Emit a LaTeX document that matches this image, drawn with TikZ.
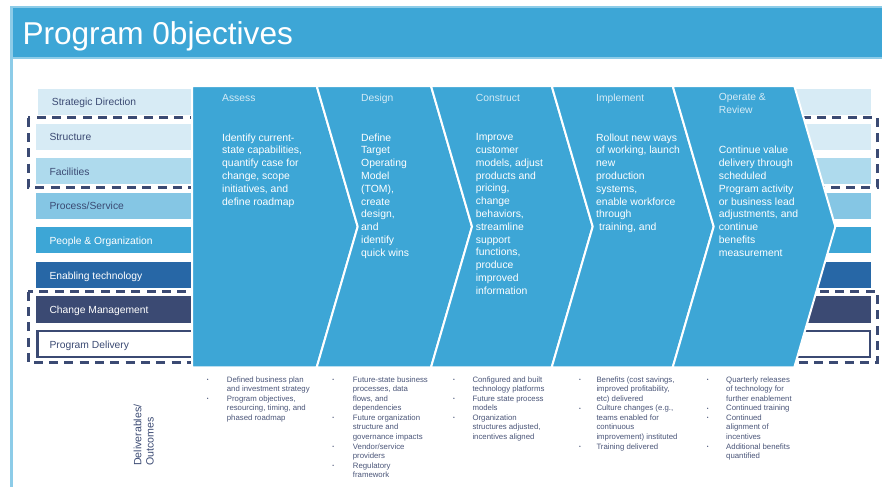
\documentclass[tikz,border=0pt]{standalone}
\usepackage{fontspec}
\setmainfont{Liberation Sans}
\definecolor{mainblue}{HTML}{3DA6D6}
\definecolor{framelight}{HTML}{8DCCE8}
\definecolor{bandpale}{HTML}{D7EBF5}
\definecolor{bandlight}{HTML}{AEDAED}
\definecolor{bandmid}{HTML}{85C6E4}
\definecolor{banddeep}{HTML}{2767A6}
\definecolor{navy}{HTML}{3B4A73}
\definecolor{titletext}{HTML}{D5EBF6}
\definecolor{delivtext}{HTML}{4A5578}
\tikzset{
  bandlabel/.style={anchor=base west, inner sep=0pt, font=\fontsize{10.3}{12}\selectfont},
  chevtitle/.style={anchor=base west, inner sep=0pt, align=left, text=titletext,
    font=\fontsize{10.3}{12.7}\selectfont},
  chevbody/.style={anchor=north west, inner sep=0pt, align=left, text=white,
    font=\fontsize{10.4}{12.8}\selectfont},
  chevron/.style={fill=mainblue, draw=white, line width=2pt, line join=miter},
  groupbox/.style={draw=navy, line width=2.7pt, dash pattern=on 9pt off 6.3pt},
  delivtxt/.style={anchor=north west, inner sep=0pt, align=left, text=delivtext,
    font=\fontsize{7.8}{9.55}\selectfont},
  bulletmark/.style={anchor=base, inner sep=0pt, text=delivtext,
    font=\fontsize{5}{5}\selectfont},
}
% one bullet: name, x, line index
\newcommand\delivbullet[3]{\node[bulletmark] (#1) at (#2,{382-0.5+#3*9.55}) {\textbullet};}
\begin{document}
\begin{tikzpicture}[x=1pt,y=-1pt]
\useasboundingbox (0,0) rectangle (882,487);

% slide header and frame
\fill[framelight] (10,5.8) rectangle (882,58.8);
\fill[mainblue] (12.8,8.2) rectangle (882,56.6);
\fill[framelight] (10,58.8) rectangle (12.8,487);
\node[anchor=base west, inner sep=0pt, text=white, font=\fontsize{31.6}{36}\selectfont]
  (title) at (22.3,44.5) {Program 0bjectives};

% capability bands
\fill[bandpale]  (38,89.3)  rectangle (871,114.5);
\fill[bandpale]  (36,124)   rectangle (871,150);
\fill[bandlight] (36,158.3) rectangle (871,184.3);
\fill[bandmid]   (36,193)   rectangle (871,219);
\fill[mainblue]  (36,227.4) rectangle (871,253.4);
\fill[banddeep]  (36,262)   rectangle (871,288.4);
\fill[navy]      (36,296.4) rectangle (871,322.6);
\draw[navy, line width=2.5pt] (37.25,331.2) rectangle (869.75,357.2);

% dashed groupings
\draw[groupbox] (28.3,117.7) rectangle (877.7,187.3);
\draw[groupbox] (28.3,291.7) rectangle (877.7,362.7);

\node[bandlabel, text=navy]  (lstrat)   at (51.7,105.8) {Strategic Direction};
\node[bandlabel, text=navy]  (lstruct)  at (49.3,140.7) {Structure};
\node[bandlabel, text=navy]  (lfacil)   at (49.3,175.2) {Facilities};
\node[bandlabel, text=navy]  (lprocess) at (49.3,209.8) {Process/Service};
\node[bandlabel, text=white] (lpeople)  at (49.3,244.3) {People \& Organization};
\node[bandlabel, text=white] (ltech)    at (49.3,279)   {Enabling technology};
\node[bandlabel, text=white] (lchange)  at (49.3,313.4) {Change Management};
\node[bandlabel, text=navy]  (ldeliv)   at (49.3,348)   {Program Delivery};

% phase chevrons
\path[chevron] (192,86) -- (316.7,86) -- (357.7,226.6) -- (316.7,367.3) -- (192,367.3) -- cycle;
\path[chevron] (316.7,86) -- (431,86) -- (472,226.6) -- (431,367.3) -- (316.7,367.3) -- (357.7,226.6) -- cycle;
\path[chevron] (431,86) -- (551.7,86) -- (592.7,226.6) -- (551.7,367.3) -- (431,367.3) -- (472,226.6) -- cycle;
\path[chevron] (551.7,86) -- (672.7,86) -- (713.7,226.6) -- (672.7,367.3) -- (551.7,367.3) -- (592.7,226.6) -- cycle;
\path[chevron] (672.7,86) -- (794.3,86) -- (835.3,226.6) -- (794.3,367.3) -- (672.7,367.3) -- (713.7,226.6) -- cycle;

% phase titles and descriptions
\node[chevtitle] (tassess) at (222,101) {Assess};
\node[chevbody]  (bassess) at (222,133.4) {Identify current-\\state capabilities,\\quantify case for\\change, scope\\initiatives, and\\define roadmap};
\node[chevtitle] (tdesign) at (361,101) {Design};
\node[chevbody]  (bdesign) at (361,133.4) {Define\\Target\\Operating\\Model\\(TOM),\\create\\design,\\and\\identify\\quick wins};
\node[chevtitle] (tconstr) at (475.7,101) {Construct};
\node[chevbody]  (bconstr) at (475.7,133.4) {Improve\\customer\\models, adjust\\products and\\pricing,\\change\\behaviors,\\streamline\\support\\functions,\\produce\\improved\\information};
\node[chevtitle] (timpl) at (596,101) {Implement};
\node[chevbody]  (bimpl) at (596,133.4) {Rollout new ways\\of working, launch\\new\\production\\systems,\\enable workforce\\through\\\kern2.9pt training, and};
\node[chevtitle, anchor=north west] (toper) at (718.7,93.6) {Operate \&\\Review};
\node[chevbody]  (boper) at (718.7,146.2) {Continue value\\delivery through\\scheduled\\Program activity\\or business lead\\adjustments, and\\continue\\benefits\\measurement};

% deliverables
\node[anchor=north west, rotate=90, inner sep=0pt, align=left, text=navy,
  font=\fontsize{10.6}{12.3}\selectfont] (outcomes) at (133.5,466) {Deliverables/\\Outcomes};

\node[delivtxt] (d1) at (226.7,376.3) {Defined business plan\\and investment strategy\\Program objectives,\\resourcing, timing, and\\phased roadmap};
\delivbullet{d1a}{207.7}{0}
\delivbullet{d1b}{207.7}{2}

\node[delivtxt] (d2) at (352.7,376.3) {Future-state business\\processes, data\\flows, and\\dependencies\\Future organization\\structure and\\governance impacts\\Vendor/service\\providers\\Regulatory\\framework};
\delivbullet{d2a}{333.3}{0}
\delivbullet{d2b}{333.3}{4}
\delivbullet{d2c}{333.3}{7}
\delivbullet{d2d}{333.3}{9}

\node[delivtxt] (d3) at (472.3,376.3) {Configured and built\\technology platforms\\Future state process\\models\\Organization\\structures adjusted,\\incentives aligned};
\delivbullet{d3a}{454}{0}
\delivbullet{d3b}{454}{2}
\delivbullet{d3c}{454}{4}

\node[delivtxt] (d4) at (596.3,376.3) {Benefits (cost savings,\\improved profitability,\\etc) delivered\\Culture changes (e.g.,\\teams enabled for\\continuous\\improvement) instituted\\Training delivered};
\delivbullet{d4a}{580}{0}
\delivbullet{d4b}{580}{3}
\delivbullet{d4c}{580}{7}

\node[delivtxt] (d5) at (726,376.3) {Quarterly releases\\of technology for\\further enablement\\Continued training\\Continued\\alignment of\\incentives\\Additional benefits\\quantified};
\delivbullet{d5a}{707.7}{0}
\delivbullet{d5b}{707.7}{3}
\delivbullet{d5c}{707.7}{4}
\delivbullet{d5d}{707.7}{7}
\end{tikzpicture}
\end{document}
